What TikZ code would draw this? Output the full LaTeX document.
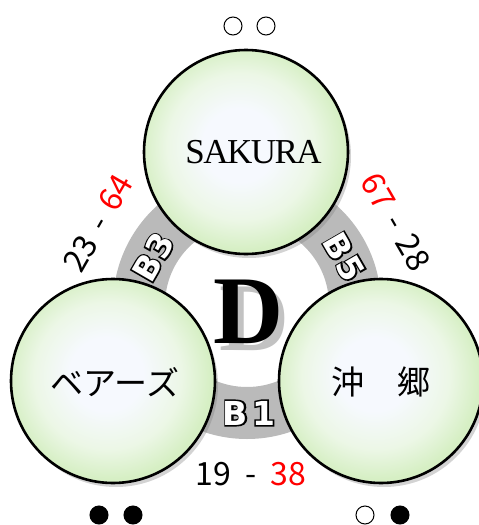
\documentclass[tikz,border=0pt]{standalone}
\usepackage{fontspec}
\setmainfont{Liberation Serif}
\newfontfamily\jpfont{Noto Sans CJK JP}
\newfontfamily\blockfont{DejaVu Sans}
\newfontfamily\blockrim{DejaVu Sans}[FakeBold=9]
\usetikzlibrary{shadows}

\definecolor{bubbleedge}{HTML}{D6EFC4}
\definecolor{bubblemid}{HTML}{ECF7E6}
\definecolor{bubblecore}{HTML}{F6F9FE}
\pgfdeclareradialshading{bubble}{\pgfpoint{-2bp}{2bp}}{%
  color(0bp)=(bubblecore); color(9bp)=(bubblecore); color(18bp)=(bubblemid);
  color(25bp)=(bubbleedge); color(50bp)=(bubbleedge)}

% white letters with a black rim
\newcommand{\rimtext}[3]{%
  \node[block label,font=\blockrim\bfseries\fontsize{33}{33}\selectfont,rotate=#2] at (#1) {#3};
  \node[block label,text=white,rotate=#2] at (#1) {#3};}

\begin{document}
\begin{tikzpicture}[x=1pt,y=-1pt,
                    team node/.style={circle,draw,line width=2.6pt,minimum size=204pt,inner sep=0pt,
                      shading=bubble,drop shadow={shadow xshift=3pt,shadow yshift=-4pt,opacity=.35}},
                    score/.style={font=\jpfont\fontsize{32}{32}\selectfont,inner sep=0pt},
                    block label/.style={font=\blockfont\bfseries\fontsize{33}{33}\selectfont,inner sep=0pt},
                    dot mark/.style={circle,draw,line width=1pt,minimum size=18pt,inner sep=0pt}]
  \useasboundingbox (0,0) rectangle (479,525);
  \coordinate (mid) at (247,305);
  % ring
  \fill[black!27,even odd rule] (mid) circle (134) (mid) circle (82);
  % teams
  \node[team node] (sakura) at (246,152) {};
  \node[team node] (bears) at (113,381) {};
  \node[team node] (okigo) at (381,381) {};
  \node[font=\fontsize{35}{35}\selectfont] (sakuraname) at (254,152) {\kern-1pt S\kern-1.5pt A\kern-1.5pt K\kern-1.5pt U\kern-1.5pt R\kern-1.5pt A};
  \node[font=\jpfont\fontsize{33}{33}\selectfont] (bearsname) at (115,382) {ベアーズ};
  \node[font=\jpfont\fontsize{33}{33}\selectfont] (okigoname) at (381,382) {沖　郷};
  % the D
  \node[font=\bfseries\fontsize{97}{97}\selectfont,text=black!40,opacity=.6] (dshadow) at (255,319) {D};
  \node[font=\bfseries\fontsize{97}{97}\selectfont] (dletter) at (249,312) {D};
  % block labels
  \coordinate (b3) at (153,257);
  \coordinate (b5) at (344,257);
  \coordinate (b1) at (249,413);
  \rimtext{b3}{60}{B\kern1pt 3}
  \rimtext{b5}{-60}{B\kern1pt 5}
  \rimtext{b1}{0}{B\kern4pt 1}
  % scores
  \node[score,rotate=60] (left score) at (98,223) {23\hspace{12pt}-\hspace{12pt}\textcolor{red}{64}};
  \node[score,rotate=-60] (right score) at (396,222) {\textcolor{red}{67}\hspace{12pt}-\hspace{12pt}28};
  \node[score] (bottom score) at (251,474) {19\hspace{14pt}-\hspace{14pt}\textcolor{red}{38}};
  % marks
  \node[dot mark] (m1) at (233,26) {};
  \node[dot mark] (m2) at (266,26) {};
  \node[dot mark,fill=black] (m3) at (99,515) {};
  \node[dot mark,fill=black] (m4) at (133,515) {};
  \node[dot mark] (m5) at (365,515) {};
  \node[dot mark,fill=black] (m6) at (400,515) {};
\end{tikzpicture}
\end{document}
